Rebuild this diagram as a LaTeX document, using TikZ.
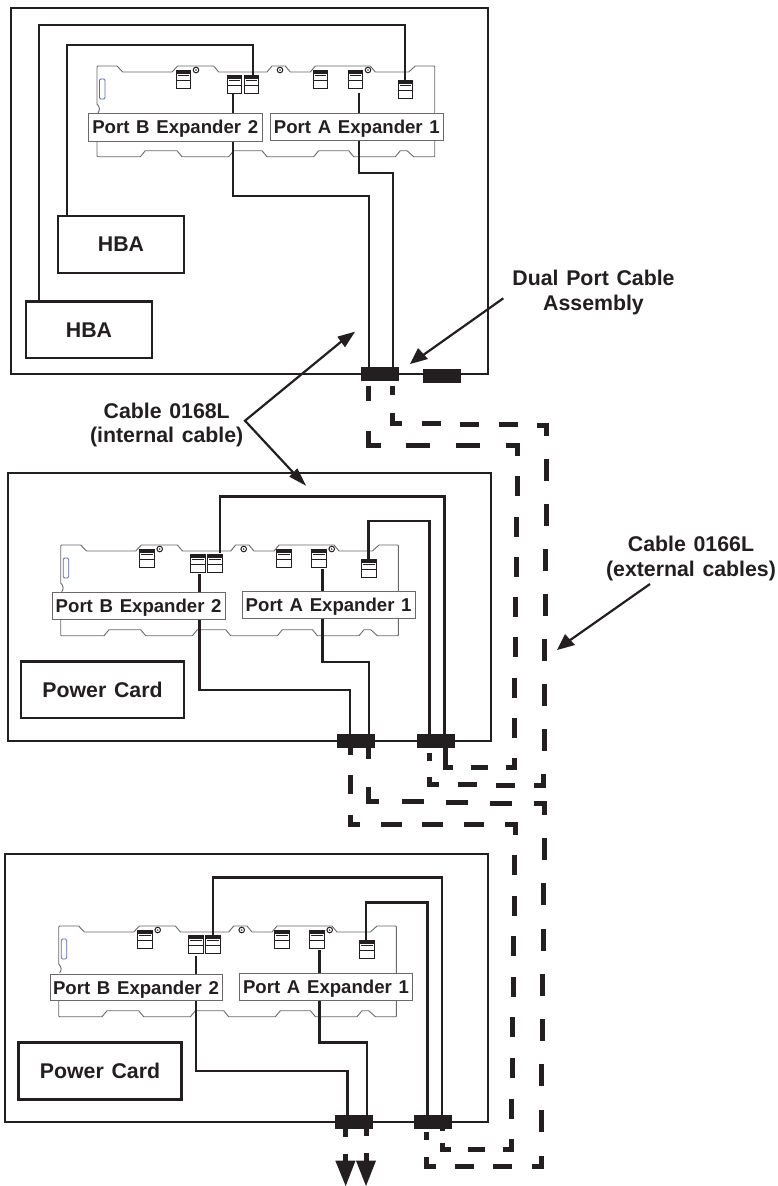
\documentclass[tikz,border=0pt]{standalone}
\usepackage{fontspec}
\usetikzlibrary{calc}
\setmainfont{Liberation Sans}
\definecolor{ink}{HTML}{231F20}
\definecolor{boardline}{HTML}{6A6869}
\definecolor{slotblue}{HTML}{5A67B8}
\newcommand{\PortFont}{\bfseries\fontsize{18.6}{22}\selectfont\spaceskip=0.36em}
\newcommand{\BigFont}{\bfseries\fontsize{21.3}{24.5}\selectfont\spaceskip=0.36em}
\newcommand{\CallFont}{\bfseries\fontsize{21.3}{24.5}\selectfont\spaceskip=0.36em}
\tikzset{
  panel/.style={draw=ink,line width=2.3pt,fill=white,line join=miter},
  wire/.style={draw=ink,line width=2.4pt,line join=miter},
  extdash/.style={draw=ink,line width=5pt,line join=miter,line cap=butt},
  blockbox/.style={fill=ink,draw=none,inner sep=0pt,minimum width=38pt,minimum height=14.5pt},
  cardbox/.style={draw=ink,line width=2.8pt,fill=white,inner sep=0pt,text=ink},
  portlabel/.style={draw=boardline,line width=0.9pt,fill=white,inner sep=0pt,text=ink,font=\PortFont,text depth=0pt},
  callout/.style={inner sep=0pt,align=center,text=ink,font=\CallFont},
  leader/.style={draw=ink,line width=2.2pt},
  tip/.style={fill=ink,draw=none},
  boardedge/.style={draw=boardline,line width=0.9pt,line join=round},
  plug/.style={draw=ink,line width=0.8pt,fill=white},
}
\newcommand{\plugat}[2]{%
  \draw[plug] (#1,#2) rectangle ++(14.7,18);
  \fill[ink] (#1,#2) rectangle ++(14.7,4);
  \draw[ink,line width=0.8pt] (#1,#2+10) -- ++(14.7,0);
  \draw[ink,line width=0.5pt] (#1+1.5,#2+5.5) -- ++(11.7,0);
}
\newcommand{\screwat}[1]{%
  \draw[ink,line width=1pt] (#1,4) circle (2.8);
  \fill[ink] (#1,4) circle (0.8);
}
\newcommand{\boardat}[2]{%
\begin{scope}[shift={(#1,#2)}]
  \draw[boardedge] (0,38) -- (0,1) -- (1,0) -- (20,0) -- (25.7,6) -- (75,6) -- (80.7,0) -- (116.7,0) -- (121.7,6)
    -- (170,6) -- (175,0) -- (188.3,0) -- (193.3,6) -- (213.3,6) -- (218.3,0) -- (273.3,0) -- (278.3,6)
    -- (311.7,6) -- (318.3,0) -- (337,0) -- (337.7,1) -- (337.7,90) -- (337,90.7) -- (316.7,90.7) -- (310,84.7) -- (303.3,84.7)
    -- (298.3,90.7) -- (256.7,90.7) -- (251.7,84.7) -- (221.7,84.7) -- (216.7,90.7) -- (170,90.7) -- (165,84.7)
    -- (136.7,84.7) -- (131.7,90.7) -- (85,90.7) -- (80,84.7) -- (48.3,84.7) -- (43.3,90.7) -- (1,90.7) -- (0,90) -- (0,70);
  \draw[boardedge] (0,38) .. controls (3,41) and (3,44) .. (1,47);
  \draw[slotblue,line width=0.8pt,rounded corners=1.3pt] (2.5,13) rectangle (8,33);
  \plugat{79}{4}\plugat{130}{9}\plugat{147}{9}\plugat{216}{4}\plugat{251}{4}\plugat{301}{14}
  \screwat{99}\screwat{183}\screwat{271}
\end{scope}}
\newcommand{\boxnode}[7]{% style,name,x1,y1,x2,y2,text
  \node[#1,minimum width={(#5-#3)*1pt},minimum height={(#6-#4)*1pt}] (#2) at ({(#3+#5)/2},{(#4+#6)/2}) {#7};
}
\begin{document}
\begin{tikzpicture}[x=1pt,y=-1pt]
\useasboundingbox (0,0) rectangle (778,1186);
\fill[white] (0,0) rectangle (778,1186);
% panels
\draw[panel] (11,7.7) rectangle (488,374);
\draw[panel] (7.7,473) rectangle (491,741);
\draw[panel] (5,854) rectangle (487.7,1122);
% boards
\boardat{97}{66}
\boardat{60.7}{545}
\boardat{58.7}{926}
% cable blocks
\node[blockbox] (A1) at (379.5,374) {};
\node[blockbox] (A2) at (441.5,376) {};
\node[blockbox] (B1) at (356,741) {};
\node[blockbox] (B2) at (436,741) {};
\node[blockbox] (C1) at (354,1122) {};
\node[blockbox] (C2) at (433,1122) {};
% cards
\boxnode{cardbox,font=\BigFont}{hbaU}{58}{216}{184}{273}{HBA}
\boxnode{cardbox,font=\BigFont}{hbaL}{26}{301.5}{152}{358}{HBA}
\boxnode{cardbox,font=\BigFont}{pwrB}{21}{661.7}{184}{718}{Power Card}
\boxnode{cardbox,font=\BigFont}{pwrC}{18.3}{1042.7}{181.7}{1099.3}{Power Card}
% internal cables, panel 1
\coordinate (p1q) at (405,80);
\coordinate (p1r) at (252.7,75);
\draw[wire] (38.7,0 |- hbaL.north) -- (38.7,25) -- (405,25) -- (p1q);
\draw[wire] (67,0 |- hbaU.north) -- (67,45) -- (252.7,45) -- (p1r);
\draw[wire] (233,93) -- (233,195.7) -- (369,195.7) -- (369,0 |- A1.north);
\draw[wire] (358.7,93) -- (358.7,172.7) -- (392.7,172.7) -- (392.7,0 |- A1.north);
% internal cables, panel 2
\draw[wire] (220,553) -- (220,496.3) -- (444.3,496.3) -- (444.3,0 |- B2.north);
\draw[wire] (368.3,559.3) -- (368.3,521) -- (429.3,521) -- (429.3,0 |- B2.north);
\draw[wire] (322.3,569) -- (322.3,661.7) -- (369,661.7) -- (369,0 |- B1.north);
\draw[wire] (199.3,574) -- (199.3,690) -- (350,690) -- (350,0 |- B1.north);
% internal cables, panel 3
\draw[wire] (212.7,935) -- (212.7,877.3) -- (441.7,877.3) -- (441.7,0 |- C2.north);
\draw[wire] (365.7,940) -- (365.7,902.3) -- (427.3,902.3) -- (427.3,0 |- C2.north);
\draw[wire] (319.3,950) -- (319.3,1042.3) -- (366.7,1042.3) -- (366.7,0 |- C1.north);
\draw[wire] (195.7,955.7) -- (195.7,1071) -- (347.3,1071) -- (347.3,0 |- C1.north);
% port labels
\boxnode{portlabel}{pbA}{88.5}{113}{262}{141}{Port B Expander 2}
\boxnode{portlabel}{paA}{270.7}{113}{443}{140}{Port A Expander 1}
\boxnode{portlabel}{pbB}{52.3}{592.7}{225}{619}{Port B Expander 2}
\boxnode{portlabel}{paB}{242.3}{591.7}{415}{618.7}{Port A Expander 1}
\boxnode{portlabel}{pbC}{50}{974}{222}{1000.7}{Port B Expander 2}
\boxnode{portlabel}{paC}{239.7}{973}{412.3}{1000}{Port A Expander 1}
% external cables, first pair
\draw[extdash] (368.7,385.7) -- ++(0,15)
  (392.7,385.7) -- ++(0,9.3)
  (392.7,413.3) -- (392.7,423) -- (402.3,423)
  (421.7,423.3) -- (440.7,423.3) (460.3,424) -- (479.3,424) (499,424.7) -- (518.3,424.7)
  (537.3,425) -- (546.8,425) -- (546.8,436)
  (368.7,431) -- (368.7,445.7) -- (380.7,445.7)
  (405.7,445.7) -- (430.3,445.7) (455.7,445.7) -- (480.3,445.7)
  (505.7,445.7) -- (517.5,445.7) -- (517.5,456);
\draw[extdash]
  (517,476) -- (517,496) (516.7,516.7) -- (516.7,536.7) (516,556.7) -- (516,576.7) (515.7,597) -- (515.7,617)
  (515,637.3) -- (515,657.3) (514.7,677.7) -- (514.7,697.7) (514.3,718) -- (514.3,738)
  (546.7,459.3) -- (546.7,481.3) (546.3,504.3) -- (546.3,526.3) (545.7,549.3) -- (545.7,571.3) (545.3,594.3) -- (545.3,616.3)
  (544.7,639.3) -- (544.7,661.3) (544.3,684.3) -- (544.3,706.3) (544,729.3) -- (544,751.3)
  (514.3,758.3) -- (514.3,767.7) -- (505.7,767.7)
  (543.3,774.3) -- (543.3,785.2) -- (534,785.2)
  (470.7,767.7) -- (487.7,767.7);
% external cables around panel 2
\draw[extdash] (445,0 |- B2.south) -- (445,767.7) -- (453.3,767.7)
  (429.3,752.7) -- (429.3,760.7)
  (429.3,776.7) -- (429.3,784.7) -- (438.7,784.7)
  (457.7,784.7) -- (476.7,784.7) (496,785) -- (515,785)
  (350,0 |- B1.south) -- (350,755)
  (368.7,0 |- B1.south) -- (368.7,759.3)
  (350,775) -- (350,794.3)
  (368.7,787.3) -- (368.7,801.3) -- (379.3,801.3)
  (401.7,801.7) -- (423.7,801.7) (445.7,802.3) -- (467.7,802.3) (489.7,803) -- (511.7,803)
  (533.5,803.7) -- (544.8,803.7) -- (544.8,815)
  (350,814.7) -- (350,824.3) -- (360,824.3)
  (381,824.3) -- (401.7,824.3) (422.3,824.3) -- (442.7,824.3) (463.7,824.3) -- (484,824.3)
  (505,824.3) -- (515,824.3) -- (515,835);
\draw[extdash]
  (514.3,855) -- (514.3,875) (514,895.7) -- (514,915.7) (513.7,936) -- (513.7,956) (513,976.7) -- (513,996.7)
  (512.7,1017.3) -- (512.7,1037.3) (512,1058) -- (512,1078) (511.7,1098.7) -- (511.7,1118.7)
  (544,838) -- (544,860) (543.7,883.3) -- (543.7,905.3) (543,928.7) -- (543,950.7) (542.7,974) -- (542.7,996)
  (542.3,1019.3) -- (542.3,1041.3) (541.7,1064.3) -- (541.7,1086.3) (541.3,1110) -- (541.3,1132.3);
% external cables, panel 3
\draw[extdash] (511.7,1139.3) -- (511.7,1149.2) -- (502.7,1149.2)
  (468.3,1149) -- (485.3,1149)
  (442.3,0 |- C2.south) -- (442.3,1130.9)
  (442.3,1143) -- (442.3,1149.2) -- (450.7,1149.2)
  (426.7,1131.7) -- (426.7,1140)
  (426.7,1157.3) -- (426.7,1166) -- (436,1166)
  (455.3,1166) -- (474.3,1166) (493.3,1166) -- (512.3,1166)
  (531.7,1166) -- (541.6,1166) -- (541.6,1155.7)
  (345.7,0 |- C1.south) -- (345.7,1137)
  (366,0 |- C1.south) -- (366,1136.3)
  (345.7,1154) -- (345.7,1162)
  (366,1153.3) -- (366,1162);
\fill[tip] (335.3,1160.7) -- (355.5,1160.7) -- (345.7,1186) -- cycle;
\fill[tip] (356,1160.7) -- (376,1160.7) -- (366,1186) -- cycle;
% callouts
\node[callout] (dual) at (593.5,292.5) {Dual Port Cable\\Assembly};
\node[callout] (c168) at (166.7,425) {Cable 0168L\\(internal cable)};
\node[callout] (c166) at (691,558.5) {Cable 0166L\\(external cables)};
\coordinate (apex) at (245,420.7);
\coordinate (t1) at (355,331.7);
\coordinate (t2) at (306,485.7);
\coordinate (t3) at (410,364);
\coordinate (s3) at (503.3,298.3);
\coordinate (t4) at (557,650);
\coordinate (s4) at (650,584);
\draw[leader,line join=miter] ($(t1)+(-9,6)$) -- (apex) -- ($(t2)+(-8,-8)$);
\draw[leader] ($(t3)+(9,-6)$) -- (s3);
\draw[leader] ($(t4)+(9,-7)$) -- (s4);
\fill[tip] (t1) -- ++(-17.7,5) -- ++(7.7,10.6) -- cycle;
\fill[tip] (t2) -- ++(-8.7,-17.4) -- ++(-8,8.4) -- cycle;
\fill[tip] (t3) -- ++(8,-16) -- ++(10,11) -- cycle;
\fill[tip] (t4) -- ++(8,-16) -- ++(10,11) -- cycle;
\end{tikzpicture}
\end{document}
